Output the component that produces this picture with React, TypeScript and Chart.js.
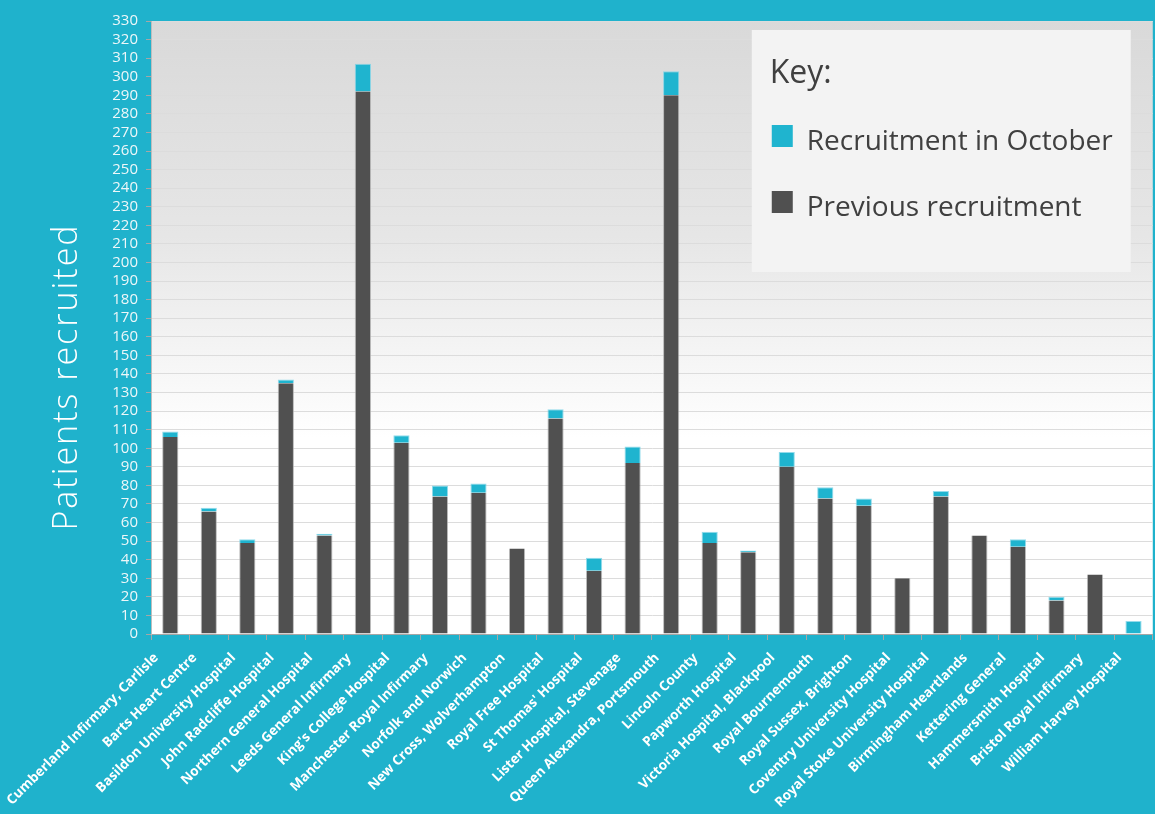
import React, { useEffect, useRef } from 'react';
import { Chart, registerables } from 'chart.js';

Chart.register(...registerables);

const hospitals = [
  'Cumberland Infirmary, Carlisle',
  'Barts Heart Centre',
  'Basildon University Hospital',
  'John Radcliffe Hospital',
  'Northern General Hospital',
  'Leeds General Infirmary',
  "King's College Hospital",
  'Manchester Royal Infirmary',
  'Norfolk and Norwich',
  'New Cross, Wolverhampton',
  'Royal Free Hospital',
  "St Thomas' Hospital",
  'Lister Hospital, Stevenage',
  'Queen Alexandra, Portsmouth',
  'Lincoln County',
  'Papworth Hospital',
  'Victoria Hospital, Blackpool',
  'Royal Bournemouth',
  'Royal Sussex, Brighton',
  'Coventry University Hospital',
  'Royal Stoke University Hospital',
  'Birmingham Heartlands',
  'Kettering General',
  'Hammersmith Hospital',
  'Bristol Royal Infirmary',
  'William Harvey Hospital',
];

const previousRecruitment = [106, 66, 49, 135, 53, 292, 103, 74, 76, 46, 116, 34, 92, 290, 49, 44, 90, 73, 69, 30, 74, 53, 47, 18, 32, 0];
const octoberRecruitment = [3, 2, 2, 2, 1, 15, 4, 6, 5, 0, 5, 7, 9, 13, 6, 1, 8, 6, 4, 0, 3, 0, 4, 2, 0, 7];

const yMin = 0;
const yMax = 330;
const yStep = 10;

const legendTitle = 'Key:';
const seriesNames = ['Previous recruitment', 'Recruitment in October'];
const yAxisTitle = 'Patients recruited';

const TEAL_BG = '#1fb2cc';
const TEAL_BAR = '#1fb4cf';
const DARK_BAR = '#505050';

const backgroundPlugin = {
  id: 'plotGradient',
  beforeDraw(chart: any) {
    const { ctx, chartArea } = chart;
    if (!chartArea) return;
    const { left, top, right, bottom } = chartArea;
    const g = ctx.createLinearGradient(0, top, 0, bottom);
    g.addColorStop(0, '#d9d9d9');
    g.addColorStop(0.35, '#e6e6e6');
    g.addColorStop(0.68, '#ffffff');
    g.addColorStop(1, '#ffffff');
    ctx.save();
    ctx.fillStyle = g;
    ctx.fillRect(left, top, right - left, bottom - top);
    ctx.restore();
  },
  afterDraw(chart: any) {
    const { ctx, chartArea } = chart;
    if (!chartArea) return;
    ctx.save();
    // y axis title
    ctx.translate(77, 377);
    ctx.rotate(-Math.PI / 2);
    ctx.font = '300 34px "Open Sans"';
    try { (ctx as any).letterSpacing = '2px'; } catch (e) {}
    ctx.fillStyle = '#ffffff';
    ctx.textAlign = 'center';
    ctx.textBaseline = 'alphabetic';
    ctx.fillText(yAxisTitle, 0, 0);
    ctx.restore();

    // legend box
    const bx = chartArea.right - 401;
    const by = chartArea.top + 9;
    ctx.save();
    try { (ctx as any).letterSpacing = '0px'; } catch (e) {}
    ctx.fillStyle = '#f3f3f3';
    ctx.fillRect(bx, by, 379, 242);
    ctx.fillStyle = '#404040';
    ctx.textAlign = 'left';
    ctx.textBaseline = 'alphabetic';
    ctx.font = '32px "Open Sans"';
    ctx.fillText(legendTitle, bx + 18, by + 53);
    ctx.font = '28px "Open Sans"';
    ctx.fillStyle = TEAL_BAR;
    ctx.fillRect(bx + 20, by + 95, 21, 22);
    ctx.fillStyle = '#404040';
    ctx.fillText(seriesNames[1], bx + 55, by + 120);
    ctx.fillStyle = DARK_BAR;
    ctx.fillRect(bx + 20, by + 161, 21, 22);
    ctx.fillStyle = '#404040';
    ctx.fillText(seriesNames[0], bx + 55, by + 186);
    ctx.restore();
  },
};

export default function App() {
  const ref = useRef<HTMLCanvasElement | null>(null);

  useEffect(() => {
    document.body.style.margin = '0';
    const canvas = ref.current;
    if (!canvas) return;
    const chart = new Chart(canvas, {
      type: 'bar',
      data: {
        labels: hospitals,
        datasets: [
          {
            label: seriesNames[0],
            data: previousRecruitment,
            backgroundColor: DARK_BAR,
            borderColor: 'rgba(170,170,170,0.8)',
            borderWidth: { left: 1, right: 1, top: 0, bottom: 0 },
            categoryPercentage: 1,
            barPercentage: 0.42,
          },
          {
            label: seriesNames[1],
            data: octoberRecruitment,
            backgroundColor: TEAL_BAR,
            borderColor: 'rgba(120,210,230,0.8)',
            borderWidth: { left: 1, right: 1, top: 1, bottom: 0 },
            categoryPercentage: 1,
            barPercentage: 0.42,
          },
        ],
      },
      options: {
        responsive: false,
        animation: false,
        layout: { padding: { top: 21, right: 2, left: 0, bottom: 0 } },
        plugins: {
          legend: { display: false },
          tooltip: { enabled: false },
          title: { display: false },
        },
        scales: {
          x: {
            stacked: true,
            grid: {
              display: true,
              drawOnChartArea: false,
              drawTicks: true,
              tickLength: 6,
              tickColor: '#a6a6a6',
              offset: true,
            },
            border: { display: true, color: '#a6a6a6' },
            ticks: {
              color: '#ffffff',
              font: { family: '"Open Sans"', size: 13.5, weight: 'bold' },
              minRotation: 45,
              maxRotation: 45,
              autoSkip: false,
              padding: 10,
              labelOffset: -14,
            },
            afterFit(scale: any) {
              scale.height = 180;
            },
          },
          y: {
            stacked: true,
            min: yMin,
            max: yMax,
            ticks: {
              stepSize: yStep,
              autoSkip: false,
              color: '#eef7f9',
              font: { family: '"Open Sans"', size: 15 },
              padding: 8,
            },
            grid: {
              color: '#dcdcdc',
              tickColor: '#a6a6a6',
              tickLength: 5,
            },
            border: { display: true, color: '#bdbdbd' },
            afterFit(scale: any) {
              scale.width = 151;
            },
          },
        },
      },
      plugins: [backgroundPlugin],
    });
    return () => chart.destroy();
  }, []);

  return (
    <div style={{ width: 1155, height: 814, background: TEAL_BG, position: 'relative', overflow: 'hidden' }}>
      <canvas ref={ref} width={1155} height={814} style={{ display: 'block' }} />
    </div>
  );
}
